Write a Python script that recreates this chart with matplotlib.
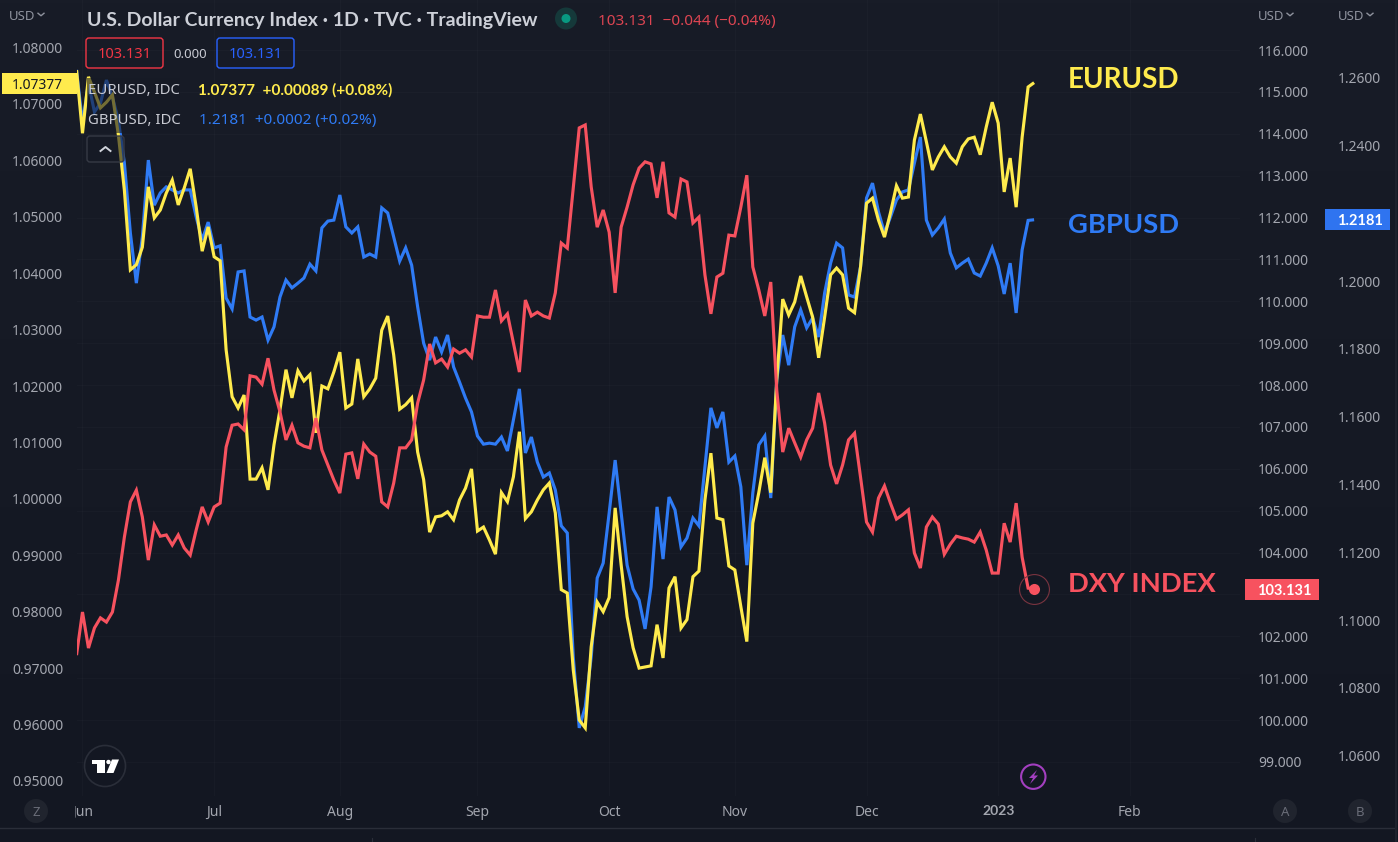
"""
U.S. Dollar Currency Index with EURUSD and GBPUSD overlays, TradingView dark layout.
"""

import numpy as np
import matplotlib
matplotlib.use("Agg")
import matplotlib.pyplot as plt
import matplotlib.ticker as mticker
from matplotlib.colors import LinearSegmentedColormap
from matplotlib.patches import Circle, FancyBboxPatch, Polygon, Rectangle
from matplotlib.transforms import Bbox

plt.rcParams["font.family"] = ["Noto Sans", "DejaVu Sans"]

WIDTH, HEIGHT = 1398, 842
DPI = 100

DXY = [
    101.55, 102.58, 101.72, 102.20, 102.44, 102.34, 102.58, 103.34, 104.37, 105.21,
    105.49, 104.85, 103.82, 104.66, 104.39, 104.42, 104.18, 104.42, 104.11, 103.94,
    104.54, 105.09, 104.73, 105.09, 105.18, 106.52, 107.04, 107.07, 106.93, 108.22,
    108.19, 108.02, 108.64, 107.88, 107.36, 106.69, 107.04, 106.62, 106.54, 106.50,
    107.21, 106.45, 106.09, 105.73, 105.42, 106.35, 106.38, 105.76, 106.59, 106.40,
    106.30, 105.21, 105.09, 105.66, 106.50, 106.50, 106.69, 107.57, 108.12, 108.98,
    108.53, 108.62, 108.43, 108.86, 108.76, 108.84, 108.67, 109.65, 109.62, 109.62,
    110.27, 109.53, 109.70, 109.00, 108.31, 110.03, 109.65, 109.74, 109.65, 109.60,
    110.20, 111.39, 111.27, 112.70, 114.14, 114.21, 112.73, 111.77, 112.18, 111.65,
    110.20, 111.77, 112.25, 112.78, 113.18, 113.33, 113.28, 112.47, 113.33, 112.11,
    112.01, 112.92, 112.85, 111.87, 112.01, 110.63, 109.70, 110.58, 110.67, 111.58,
    111.56, 112.25, 113.01, 110.82, 110.27, 109.65, 110.46, 107.88, 106.40, 106.97,
    106.62, 106.28, 106.69, 106.97, 107.81, 107.09, 106.09, 105.64, 106.09, 106.69,
    106.85, 105.80, 104.73, 104.49, 105.30, 105.59, 105.18, 104.80, 104.90, 105.02,
    103.99, 103.63, 104.61, 104.85, 104.68, 103.96, 104.20, 104.39, 104.35, 104.32,
    104.25, 104.49, 104.06, 103.51, 103.51, 104.70, 104.25, 105.18, 103.89, 103.15,
    103.131,
]

GBPUSD = [
    1.2623, 1.2466, 1.2584, 1.2499, 1.2525, 1.2593, 1.2543, 1.2475, 1.2348, 1.2142,
    1.1994, 1.2130, 1.2357, 1.2224, 1.2260, 1.2278, 1.2269, 1.2260, 1.2269, 1.2269,
    1.2189, 1.2121, 1.2174, 1.2098, 1.2104, 1.1950, 1.1918, 1.2027, 1.2030, 1.1894,
    1.1885, 1.1894, 1.1826, 1.1865, 1.1953, 1.2003, 1.1980, 1.1994, 1.2009, 1.2050,
    1.2030, 1.2157, 1.2177, 1.2180, 1.2254, 1.2160, 1.2142, 1.2160, 1.2071, 1.2080,
    1.2071, 1.2216, 1.2201, 1.2130, 1.2059, 1.2098, 1.2047, 1.1924, 1.1817, 1.1767,
    1.1835, 1.1791, 1.1841, 1.1747, 1.1702, 1.1655, 1.1614, 1.1543, 1.1519, 1.1522,
    1.1519, 1.1540, 1.1499, 1.1590, 1.1682, 1.1493, 1.1540, 1.1466, 1.1422, 1.1434,
    1.1384, 1.1278, 1.1257, 1.0891, 1.0682, 1.0744, 1.0891, 1.1124, 1.1168, 1.1316,
    1.1472, 1.1316, 1.1162, 1.1092, 1.1059, 1.0974, 1.1098, 1.1334, 1.1180, 1.1363,
    1.1325, 1.1216, 1.1242, 1.1301, 1.1278, 1.1452, 1.1626, 1.1567, 1.1614, 1.1466,
    1.1484, 1.1393, 1.1162, 1.1375, 1.1517, 1.1543, 1.1360, 1.1708, 1.1841, 1.1752,
    1.1865, 1.1915, 1.1862, 1.1891, 1.1835, 1.1965, 1.2053, 1.2112, 1.2098, 1.1959,
    1.1953, 1.2042, 1.2245, 1.2289, 1.2204, 1.2142, 1.2189, 1.2239, 1.2263, 1.2269,
    1.2348, 1.2425, 1.2180, 1.2136, 1.2157, 1.2183, 1.2083, 1.2039, 1.2053, 1.2065,
    1.2024, 1.2015, 1.2053, 1.2098, 1.2045, 1.1962, 1.2053, 1.1906, 1.2092, 1.2179,
    1.2181,
]

EURUSD = [
    1.0760, 1.0648, 1.0748, 1.0721, 1.0693, 1.0703, 1.0716, 1.0645, 1.0547, 1.0406,
    1.0415, 1.0446, 1.0553, 1.0498, 1.0512, 1.0542, 1.0565, 1.0521, 1.0551, 1.0585,
    1.0517, 1.0439, 1.0482, 1.0429, 1.0422, 1.0264, 1.0181, 1.0161, 1.0184, 1.0035,
    1.0035, 1.0055, 1.0016, 1.0096, 1.0158, 1.0229, 1.0179, 1.0227, 1.0209, 1.0220,
    1.0117, 1.0200, 1.0195, 1.0225, 1.0260, 1.0161, 1.0168, 1.0248, 1.0181, 1.0195,
    1.0214, 1.0299, 1.0324, 1.0255, 1.0159, 1.0167, 1.0179, 1.0083, 1.0034, 0.9941,
    0.9968, 0.9970, 0.9977, 0.9963, 0.9998, 1.0019, 1.0053, 0.9943, 0.9950, 0.9927,
    0.9902, 1.0011, 0.9995, 1.0039, 1.0119, 0.9965, 0.9977, 0.9998, 1.0016, 1.0028,
    0.9975, 0.9839, 0.9833, 0.9697, 0.9608, 0.9594, 0.9738, 0.9817, 0.9800, 0.9825,
    0.9984, 0.9883, 0.9791, 0.9736, 0.9700, 0.9702, 0.9704, 0.9777, 0.9718, 0.9842,
    0.9862, 0.9771, 0.9786, 0.9862, 0.9872, 0.9998, 1.0081, 0.9966, 0.9963, 0.9881,
    0.9874, 0.9809, 0.9747, 0.9957, 1.0011, 1.0073, 1.0011, 1.0211, 1.0354, 1.0326,
    1.0349, 1.0395, 1.0358, 1.0322, 1.0250, 1.0322, 1.0397, 1.0409, 1.0397, 1.0338,
    1.0330, 1.0411, 1.0524, 1.0533, 1.0494, 1.0464, 1.0507, 1.0555, 1.0533, 1.0535,
    1.0636, 1.0682, 1.0633, 1.0583, 1.0606, 1.0624, 1.0606, 1.0595, 1.0624, 1.0638,
    1.0641, 1.0610, 1.0659, 1.0703, 1.0666, 1.0544, 1.0604, 1.0517, 1.0641, 1.0730,
    1.07377,
]

MONTH_BARS = [1, 23, 44, 67, 89, 110, 132, 154, 176]
MONTH_LABELS = ["Jun", "Jul", "Aug", "Sep", "Oct", "Nov", "Dec", "2023", "Feb"]
EUR_TICKS = [1.08, 1.07, 1.06, 1.05, 1.04, 1.03, 1.02, 1.01, 1.00, 0.99, 0.98, 0.97, 0.96, 0.95]
DXY_TICKS = [116, 115, 114, 113, 112, 111, 110, 109, 108, 107, 106, 105, 104, 103, 102, 101, 100, 99]
GBP_TICKS = [1.26, 1.24, 1.22, 1.20, 1.18, 1.16, 1.14, 1.12, 1.10, 1.08, 1.06]

COL_YELLOW = "#FFEB4D"
COL_BLUE = "#2F7BF5"
COL_RED = "#F7525F"
COL_AXIS = "#A3A6AF"
COL_TITLE = "#CDD0D8"
COL_BG_MID = "#161A25"
BOLD_FONT = ["Lato", "DejaVu Sans"]

# plot pane in pixels, the time scale sits below it
PANE_L, PANE_R, PANE_B = 76.5, 1240, 796
BAR_PX = 5.985

fig = plt.figure(figsize=(WIDTH / DPI, HEIGHT / DPI), dpi=DPI)

ax_bg = fig.add_axes([0, 0, 1, 1], zorder=-1)
cmap = LinearSegmentedColormap.from_list("pane", ["#181C27", "#131722"])
ax_bg.imshow(np.linspace(0, 1, 256).reshape(-1, 1), cmap=cmap, aspect="auto")
ax_bg.axis("off")

rect = [PANE_L / WIDTH, (HEIGHT - PANE_B) / HEIGHT, (PANE_R - PANE_L) / WIDTH, PANE_B / HEIGHT]
bars = np.arange(len(DXY))
xlim = (0, (PANE_R - PANE_L) / BAR_PX)


def make_axes(zorder, ylim):
    ax = fig.add_axes(rect, zorder=zorder)
    ax.patch.set_visible(False)
    ax.set_xlim(xlim)
    ax.set_ylim(ylim)
    for spine in ax.spines.values():
        spine.set_visible(False)
    ax.set_xticks([])
    return ax


ax_grid = make_axes(1, (98.187, 117.194))
ax_gbp = make_axes(2, (1.04811, 1.28292))
ax_eur = make_axes(3, (0.94733, 1.08842))
ax_dxy = make_axes(4, (98.187, 117.194))

# grid follows the month ticks and the DXY scale
ax_grid.set_xticks(MONTH_BARS)
ax_grid.set_xticklabels(MONTH_LABELS)
ax_grid.set_yticks(DXY_TICKS)
ax_grid.grid(True, color="white", alpha=0.02, linewidth=0.7)
ax_grid.tick_params(axis="x", length=0, pad=6.5, labelsize=10, labelcolor=COL_AXIS)
ax_grid.tick_params(axis="y", length=0, labelleft=False)
for lab in ax_grid.get_xticklabels():
    lab.set_clip_on(True)
    lab.set_clip_box(Bbox([[75, 0], [PANE_R, HEIGHT]]))
    if lab.get_text() == "2023":
        lab.set_family(BOLD_FONT)
        lab.set_fontweight("bold")

line_kw = dict(linewidth=2.25, solid_joinstyle="miter", solid_capstyle="butt")
ax_gbp.plot(bars, GBPUSD, color=COL_BLUE, **line_kw)
ax_eur.plot(bars, EURUSD, color=COL_YELLOW, **line_kw)
ax_dxy.plot(bars, DXY, color=COL_RED, **line_kw)

ax_dxy.plot(bars[-1], DXY[-1], marker="o", markersize=8, color=COL_RED, markeredgewidth=0)
ax_dxy.plot(bars[-1], DXY[-1], marker="o", markersize=21.5, markerfacecolor="none",
            markeredgecolor="#7A3440", markeredgewidth=0.8)

ax_eur.set_yticks(EUR_TICKS)
ax_eur.yaxis.set_major_formatter(mticker.FormatStrFormatter("%.5f"))
ax_eur.tick_params(axis="y", length=0, pad=9.7, labelsize=10, labelcolor=COL_AXIS)

# the 103 label sits under the last value tag in the reference, so it is left out
ax_dxy.yaxis.tick_right()
ax_dxy.set_yticks([t for t in DXY_TICKS if t != 103])
ax_dxy.yaxis.set_major_formatter(mticker.FormatStrFormatter("%.3f"))
ax_dxy.tick_params(axis="y", length=0, pad=13, labelsize=10, labelcolor=COL_AXIS)

ax_gbp.yaxis.tick_right()
ax_gbp.set_yticks(GBP_TICKS)
ax_gbp.yaxis.set_major_formatter(mticker.FormatStrFormatter("%.4f"))
ax_gbp.tick_params(axis="y", length=0, pad=70.6, labelsize=10, labelcolor=COL_AXIS)

# chrome on top, drawn in screen pixels
ui = fig.add_axes([0, 0, 1, 1], zorder=10)
ui.patch.set_visible(False)
ui.set_xlim(0, WIDTH)
ui.set_ylim(HEIGHT, 0)
ui.axis("off")


def label(x, y, text, color, size=10, weight="normal", ha="left", family=None):
    ui.text(x, y, text, color=color, fontsize=size, fontweight=weight, ha=ha, va="center_baseline",
            family=family if family else plt.rcParams["font.family"])


def box(x0, y0, x1, y1, edge, face="none", lw=1.0, alpha=None):
    ui.add_patch(FancyBboxPatch((x0 + 3, y0 + 3), x1 - x0 - 6, y1 - y0 - 6,
                                boxstyle="round,pad=3,rounding_size=3",
                                edgecolor=edge, facecolor=face, linewidth=lw, alpha=alpha))


def chevron(x, y, color, w=3, h=2.5, lw=1.0):
    ui.plot([x - w, x, x + w], [y - h / 2, y + h / 2, y - h / 2], color=color, linewidth=lw)


# faded backdrops behind the legend rows, lines show through dimmed
ui.add_patch(Rectangle((87, 78), 93, 55, facecolor=COL_BG_MID, edgecolor="none", alpha=0.6))
box(87, 136, 124, 162, "#363A45", COL_BG_MID + "99")

for x_usd in (9, 1258, 1338):
    label(x_usd, 14.5, "USD", "#8F939E", size=9.5)
    chevron(x_usd + 32, 14.5, "#8F939E")

label(87, 19, "U.S. Dollar Currency Index · 1D · TVC · TradingView", COL_TITLE, size=14, weight="bold",
      family=BOLD_FONT)
ui.add_patch(Circle((566, 18.5), 11, facecolor="#15393A", edgecolor="none"))
ui.add_patch(Circle((566, 18.5), 4.5, facecolor="#089981", edgecolor="none"))
label(598, 19.5, "103.131  −0.044 (−0.04%)", "#DE4552", size=11)

box(86, 38, 163, 68, "#F23645")
label(124.5, 53, "103.131", "#F23645", ha="center", size=10.5)
label(190, 53, "0.000", "#C8CAD2", ha="center", size=9.5)
box(217, 38, 294, 68, "#2962FF")
label(255.5, 53, "103.131", "#2962FF", ha="center", size=10.5)

label(88, 89, "EURUSD, IDC", "#C8CAD2", size=10.7)
label(198, 89, "1.07377  +0.00089 (+0.08%)", COL_YELLOW, size=11.05, weight="bold", family=BOLD_FONT)
label(88, 118.5, "GBPUSD, IDC", "#C8CAD2", size=10.7)
label(199, 118.5, "1.2181  +0.0002 (+0.02%)", COL_BLUE, size=11)
chevron(105.5, 149, "#D1D4DC", w=5, h=-4, lw=1.4)

# last value tags
ui.add_patch(Rectangle((2, 73), PANE_L - 2, 21, facecolor=COL_YELLOW, edgecolor="none"))
label(63, 83.5, "1.07377", "#131722", ha="right")
ui.add_patch(Rectangle((1325, 209), 65, 21, facecolor="#2F74F0", edgecolor="none"))
label(1360, 219.5, "1.2181", "white", ha="center", weight="bold", size=10.5, family=BOLD_FONT)
ui.add_patch(Rectangle((1245, 579), 74, 21, facecolor=COL_RED, edgecolor="none"))
label(1284, 589.5, "103.131", "white", ha="center", weight="bold", size=10.5, family=BOLD_FONT)

# series names typed next to the line ends
label(1068, 78, "EURUSD", COL_YELLOW, size=20, weight="bold", family=BOLD_FONT)
label(1068, 223, "GBPUSD", COL_BLUE, size=19.7, weight="bold", family=BOLD_FONT)
label(1068, 582, "DXY INDEX", COL_RED, size=19.7, weight="bold", family=BOLD_FONT)

# TradingView logo badge
ui.add_patch(Circle((105, 766), 20.5, facecolor="#131722", edgecolor="#2A2E39", linewidth=1.2))
ui.add_patch(Polygon([(92, 759.5), (105, 759.5), (105, 773), (97, 773), (97, 763.5), (92, 763.5)],
                     facecolor="white", edgecolor="none"))
ui.add_patch(Circle((108.5, 762), 2.2, facecolor="white", edgecolor="none"))
ui.add_patch(Polygon([(112, 759.5), (119, 759.5), (113.5, 773), (106.5, 773)],
                     facecolor="white", edgecolor="none"))

# lightning badge
ui.add_patch(Circle((1033.3, 776.7), 12.2, facecolor="none", edgecolor="#A33FC0", linewidth=1.5))
ui.add_patch(Polygon([(1037, 770), (1029, 778), (1033, 778), (1030, 784), (1038, 775.5), (1034, 775.5)],
                     facecolor="#A33FC0", edgecolor="none"))

# scale buttons
for x_btn, name in ((36, "Z"), (1285, "A"), (1360, "B")):
    ui.add_patch(Circle((x_btn, 811), 12, facecolor="#20242E", edgecolor="none"))
    label(x_btn, 811, name, "#6A6D78", ha="center", size=9.5)

ui.plot([0, 1395], [828, 828], color="#2A2E39", linewidth=1)
ui.plot([1395.5, 1395.5], [0, HEIGHT], color="#1E222D", linewidth=1.5)
ui.plot([371.5, 371.5], [838, 842], color="#2A2E39", linewidth=0.8)
ui.plot([1254.5, 1254.5], [838, 842], color="#2A2E39", linewidth=0.8)

fig.savefig("out.png", dpi=DPI)
